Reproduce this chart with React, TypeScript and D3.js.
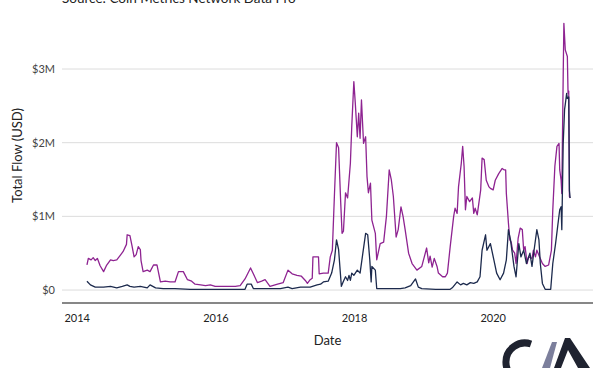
import React from 'react';
import * as d3 from 'd3';

// ---- data (values in millions of USD, dates as decimal years) ----
const yTicks = [0, 1, 2, 3];
const yTickLabels = ['$0', '$1M', '$2M', '$3M'];
const xTicks = [2014, 2016, 2018, 2020];
const xTickLabels = ['2014', '2016', '2018', '2020'];

const flowADates = [
  2014.14, 2014.16, 2014.20, 2014.23, 2014.26, 2014.29, 2014.33, 2014.38, 2014.42, 2014.48,
  2014.52, 2014.57, 2014.62, 2014.66, 2014.71, 2014.72, 2014.76, 2014.79, 2014.82, 2014.85,
  2014.88, 2014.91, 2014.92, 2014.95, 2015.01, 2015.05, 2015.10, 2015.15, 2015.20, 2015.27,
  2015.34, 2015.41, 2015.46, 2015.53, 2015.59, 2015.65, 2015.70, 2015.78, 2015.85, 2015.92,
  2015.99, 2016.14, 2016.28, 2016.35, 2016.42, 2016.50, 2016.54, 2016.60, 2016.66, 2016.71,
  2016.78, 2016.89, 2016.97, 2017.04, 2017.10, 2017.17, 2017.23, 2017.29, 2017.32, 2017.36,
  2017.39, 2017.40, 2017.48, 2017.49, 2017.55, 2017.62, 2017.65, 2017.68, 2017.71, 2017.74,
  2017.77, 2017.80, 2017.82, 2017.84, 2017.87, 2017.90, 2017.94, 2017.96, 2017.99, 2018.01,
  2018.04, 2018.06, 2018.08, 2018.10, 2018.13, 2018.16, 2018.18, 2018.20, 2018.23, 2018.25,
  2018.30, 2018.32, 2018.37, 2018.42, 2018.46, 2018.50, 2018.53, 2018.56, 2018.60, 2018.63,
  2018.67, 2018.70, 2018.73, 2018.78, 2018.83, 2018.90, 2018.97, 2019.04, 2019.07, 2019.09,
  2019.12, 2019.15, 2019.19, 2019.21, 2019.27, 2019.31, 2019.34, 2019.38, 2019.43, 2019.45,
  2019.48, 2019.50, 2019.54, 2019.56, 2019.58, 2019.60, 2019.62, 2019.66, 2019.70, 2019.72,
  2019.74, 2019.77, 2019.82, 2019.84, 2019.87, 2019.90, 2019.94, 2019.96, 2020.00, 2020.03,
  2020.08, 2020.13, 2020.16, 2020.18, 2020.19, 2020.22, 2020.24, 2020.26, 2020.28, 2020.31,
  2020.33, 2020.36, 2020.39, 2020.42, 2020.44, 2020.46, 2020.49, 2020.51, 2020.56, 2020.58,
  2020.61, 2020.63, 2020.67, 2020.71, 2020.75, 2020.80, 2020.84, 2020.86, 2020.89, 2020.92,
  2020.95, 2020.96, 2020.98, 2020.99, 2021.01, 2021.02, 2021.04, 2021.07, 2021.08, 2021.09,
  2021.10, 2021.11,
];
const flowAValues = [
  0.34, 0.43, 0.41, 0.44, 0.40, 0.43, 0.33, 0.25, 0.33, 0.41,
  0.40, 0.41, 0.47, 0.52, 0.62, 0.75, 0.74, 0.60, 0.45, 0.48,
  0.59, 0.55, 0.40, 0.25, 0.27, 0.25, 0.34, 0.34, 0.11, 0.12,
  0.11, 0.11, 0.25, 0.25, 0.14, 0.12, 0.08, 0.07, 0.06, 0.07,
  0.05, 0.05, 0.05, 0.06, 0.15, 0.30, 0.22, 0.10, 0.12, 0.14,
  0.05, 0.08, 0.10, 0.27, 0.22, 0.20, 0.19, 0.13, 0.09, 0.14,
  0.16, 0.45, 0.45, 0.22, 0.23, 0.23, 0.45, 0.54, 1.29, 2.00,
  1.93, 1.20, 0.77, 0.80, 1.32, 1.25, 1.72, 2.22, 2.83, 2.55,
  2.08, 2.40, 2.06, 2.58, 1.99, 2.08, 1.54, 1.32, 1.45, 0.95,
  0.77, 0.41, 0.63, 0.65, 1.00, 1.63, 1.50, 1.27, 0.72, 0.82,
  1.13, 1.00, 0.82, 0.50, 0.36, 0.27, 0.32, 0.57, 0.37, 0.46,
  0.31, 0.43, 0.32, 0.23, 0.18, 0.18, 0.23, 0.59, 1.00, 1.11,
  1.04, 1.40, 1.72, 1.95, 1.68, 1.09, 1.27, 1.20, 1.25, 1.04,
  1.11, 1.02, 1.36, 1.79, 1.77, 1.49, 1.40, 1.38, 1.36, 1.49,
  1.58, 1.65, 1.63, 1.63, 1.31, 0.91, 0.68, 0.65, 0.54, 0.50,
  0.36, 0.70, 0.84, 0.82, 0.54, 0.59, 0.36, 0.45, 0.43, 0.54,
  0.45, 0.54, 0.45, 0.36, 0.32, 0.34, 0.54, 1.09, 1.68, 1.95,
  1.99, 1.63, 1.49, 1.31, 2.90, 3.62, 3.26, 3.17, 2.67, 2.70,
  1.27, 1.25,
];

const flowBDates = [
  2014.14, 2014.19, 2014.26, 2014.38, 2014.48, 2014.57, 2014.65, 2014.72, 2014.76, 2014.82,
  2014.91, 2015.01, 2015.05, 2015.13, 2015.24, 2015.41, 2015.63, 2015.92, 2016.21, 2016.42,
  2016.45, 2016.51, 2016.54, 2016.71, 2016.93, 2017.04, 2017.10, 2017.22, 2017.36, 2017.46,
  2017.51, 2017.55, 2017.62, 2017.67, 2017.71, 2017.74, 2017.77, 2017.81, 2017.84, 2017.87,
  2017.90, 2017.92, 2017.94, 2017.96, 2017.99, 2018.04, 2018.08, 2018.12, 2018.16, 2018.19,
  2018.22, 2018.24, 2018.25, 2018.30, 2018.32, 2018.52, 2018.66, 2018.73, 2018.81, 2018.88,
  2018.92, 2018.97, 2019.17, 2019.38, 2019.41, 2019.48, 2019.53, 2019.57, 2019.62, 2019.67,
  2019.72, 2019.77, 2019.81, 2019.84, 2019.89, 2019.91, 2019.96, 2020.01, 2020.05, 2020.10,
  2020.15, 2020.19, 2020.22, 2020.25, 2020.30, 2020.33, 2020.37, 2020.40, 2020.44, 2020.48,
  2020.53, 2020.56, 2020.59, 2020.63, 2020.66, 2020.68, 2020.71, 2020.75, 2020.83, 2020.86,
  2020.90, 2020.93, 2020.96, 2020.98, 2020.99, 2021.01, 2021.03, 2021.04, 2021.06, 2021.07,
  2021.09, 2021.10, 2021.11,
];
const flowBValues = [
  0.12, 0.07, 0.04, 0.04, 0.05, 0.03, 0.05, 0.07, 0.05, 0.04,
  0.05, 0.03, 0.07, 0.03, 0.02, 0.02, 0.01, 0.01, 0.01, 0.01,
  0.08, 0.08, 0.02, 0.02, 0.02, 0.04, 0.02, 0.04, 0.04, 0.07,
  0.08, 0.11, 0.12, 0.23, 0.41, 0.68, 0.55, 0.05, 0.12, 0.18,
  0.13, 0.20, 0.13, 0.23, 0.20, 0.27, 0.23, 0.50, 0.77, 0.75,
  0.41, 0.11, 0.32, 0.27, 0.02, 0.02, 0.02, 0.03, 0.06, 0.15,
  0.04, 0.02, 0.01, 0.01, 0.03, 0.11, 0.07, 0.09, 0.07, 0.10,
  0.09, 0.11, 0.18, 0.54, 0.75, 0.54, 0.63, 0.41, 0.23, 0.14,
  0.23, 0.41, 0.82, 0.68, 0.32, 0.18, 0.63, 0.45, 0.54, 0.36,
  0.50, 0.32, 0.54, 0.82, 0.68, 0.36, 0.09, 0.01, 0.01, 0.36,
  0.63, 0.86, 1.09, 1.13, 0.82, 1.99, 2.45, 2.52, 2.67, 2.60,
  2.62, 1.35, 1.25,
];

const W = 600;
const H = 368;
const FONT = 'Lato, "Open Sans", sans-serif';

export default function App() {
  const x = d3.scaleLinear().domain([2013.78, 2021.44]).range([62, 593]);
  const y = d3.scaleLinear().domain([-0.176, 3.828]).range([303, 8]);

  const seriesA = flowADates.map((d, i) => ({ t: d, v: flowAValues[i] }));
  const seriesB = flowBDates.map((d, i) => ({ t: d, v: flowBValues[i] }));
  const line = d3
    .line<{ t: number; v: number }>()
    .x((d) => x(d.t))
    .y((d) => y(d.v));

  const [x0, x1] = x.range();

  return (
    <svg
      width={W}
      height={H}
      style={{ position: 'absolute', left: 0, top: 0, background: '#fff' }}
      fontFamily={FONT}
    >
      <rect width={W} height={H} fill="#fff" />
      <text x={62} y={3} fontSize={13.5} fill="#222">
        Source: Coin Metrics Network Data Pro
      </text>

      {yTicks.map((t, i) => (
        <g key={t}>
          <line x1={x0} x2={x1} y1={y(t)} y2={y(t)} stroke="#dcdcdc" strokeWidth={1} />
          <text x={55} y={y(t)} dy="0.35em" textAnchor="end" fontSize={11} fill="#444">
            {yTickLabels[i]}
          </text>
        </g>
      ))}

      <path d={line(seriesA) || ''} fill="none" stroke="#8e2391" strokeWidth={1.3} strokeLinejoin="round" />
      <path d={line(seriesB) || ''} fill="none" stroke="#1c2a4d" strokeWidth={1.3} strokeLinejoin="round" />

      <line x1={x0} x2={x1} y1={303} y2={303} stroke="#111" strokeWidth={1.2} />
      {xTicks.map((t, i) => (
        <text key={t} x={x(t)} y={318} dy="0.35em" textAnchor="middle" fontSize={11} fill="#222">
          {xTickLabels[i]}
        </text>
      ))}

      <text x={(x0 + x1) / 2} y={340} dy="0.35em" textAnchor="middle" fontSize={13} fill="#222">
        Date
      </text>
      <text
        transform={`translate(17,${(y(3.828) + 303) / 2}) rotate(-90)`}
        textAnchor="middle"
        dy="0.35em"
        fontSize={13}
        fill="#222"
      >
        Total Flow (USD)
      </text>

      {/* logo */}
      <g>
        <path d="M 531 344 A 19 19 0 1 0 531 380" fill="none" stroke="#1f2330" strokeWidth={7} />
        <polygon points="542,368 550,368 557,342 552,342" fill="#7c7f9c" />
        <polygon points="554,368 561,368 568,350 578,368 590,368 570,338 565,338" fill="#1f2330" />
      </g>
    </svg>
  );
}
